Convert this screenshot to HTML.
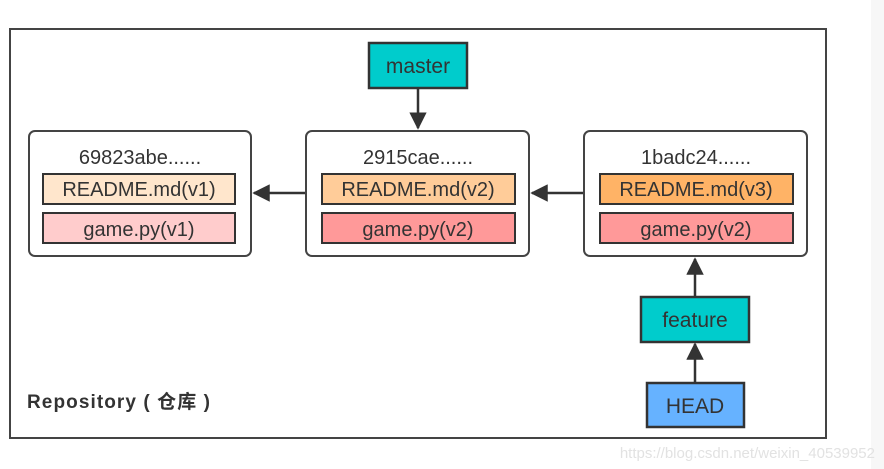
<!DOCTYPE html>
<html><head><meta charset="utf-8"><style>
html,body{margin:0;padding:0;background:#fff;width:884px;height:469px;overflow:hidden}
svg{display:block}
text{font-family:"Liberation Sans","Noto Sans CJK SC",sans-serif;fill:#333}
</style></head><body>
<svg width="884" height="469" viewBox="0 0 884 469" xmlns="http://www.w3.org/2000/svg">
<defs>
<marker id="a" viewBox="0 0 10 10" refX="9" refY="5" markerWidth="7" markerHeight="7" orient="auto" markerUnits="strokeWidth">
<path d="M0,0 L10,5 L0,10 Z" fill="#333"/>
</marker>
</defs>
<rect x="871" y="0" width="13" height="469" fill="#f7f7f7"/>
<rect x="10" y="29" width="816" height="409" fill="#fff" stroke="#444" stroke-width="2"/>

<rect x="29" y="131" width="222" height="125" rx="6" fill="#fff" stroke="#444" stroke-width="2"/>
<text x="140" y="164" font-size="20" text-anchor="middle">69823abe......</text>
<rect x="43" y="174" width="192" height="30" fill="#ffe6cc" stroke="#333" stroke-width="2"/>
<text x="139" y="196" font-size="20" text-anchor="middle">README.md(v1)</text>
<rect x="43" y="213" width="192" height="30" fill="#ffcccc" stroke="#333" stroke-width="2"/>
<text x="139" y="236" font-size="20" text-anchor="middle">game.py(v1)</text>

<rect x="306" y="131" width="223" height="125" rx="6" fill="#fff" stroke="#444" stroke-width="2"/>
<text x="418" y="164" font-size="20" text-anchor="middle">2915cae......</text>
<rect x="322" y="174" width="193" height="30" fill="#ffcc99" stroke="#333" stroke-width="2"/>
<text x="418" y="196" font-size="20" text-anchor="middle">README.md(v2)</text>
<rect x="322" y="213" width="193" height="30" fill="#ff9999" stroke="#333" stroke-width="2"/>
<text x="418" y="236" font-size="20" text-anchor="middle">game.py(v2)</text>

<rect x="584" y="131" width="223" height="125" rx="6" fill="#fff" stroke="#444" stroke-width="2"/>
<text x="696" y="164" font-size="20" text-anchor="middle">1badc24......</text>
<rect x="600" y="174" width="193" height="30" fill="#ffb366" stroke="#333" stroke-width="2"/>
<text x="696" y="196" font-size="20" text-anchor="middle">README.md(v3)</text>
<rect x="600" y="213" width="193" height="30" fill="#ff9999" stroke="#333" stroke-width="2"/>
<text x="696" y="236" font-size="20" text-anchor="middle">game.py(v2)</text>

<line x1="305" y1="193" x2="254" y2="193" stroke="#333" stroke-width="2.5" marker-end="url(#a)"/>
<line x1="583" y1="193" x2="532" y2="193" stroke="#333" stroke-width="2.5" marker-end="url(#a)"/>
<line x1="418" y1="89" x2="418" y2="128" stroke="#333" stroke-width="2.5" marker-end="url(#a)"/>
<line x1="695" y1="296" x2="695" y2="259" stroke="#333" stroke-width="2.5" marker-end="url(#a)"/>
<line x1="695" y1="382" x2="695" y2="344" stroke="#333" stroke-width="2.5" marker-end="url(#a)"/>

<rect x="369" y="43" width="98" height="45" fill="#00cccc" stroke="#333" stroke-width="2.5"/>
<text x="418" y="73" font-size="21" text-anchor="middle">master</text>
<rect x="641" y="297" width="108" height="45" fill="#00cccc" stroke="#333" stroke-width="2.5"/>
<text x="695" y="327" font-size="21" text-anchor="middle">feature</text>
<rect x="647" y="383" width="97" height="44" fill="#66b2ff" stroke="#333" stroke-width="2.5"/>
<text x="695" y="413" font-size="21" text-anchor="middle">HEAD</text>

<text x="27" y="408" font-size="19" font-weight="bold" fill="#333" textLength="183" lengthAdjust="spacing">Repository ( 仓库 )</text>
<text x="875" y="458" font-size="15" text-anchor="end" style="fill:#e2e2e2">https://blog.csdn.net/weixin_40539952</text>
</svg>
</body></html>
